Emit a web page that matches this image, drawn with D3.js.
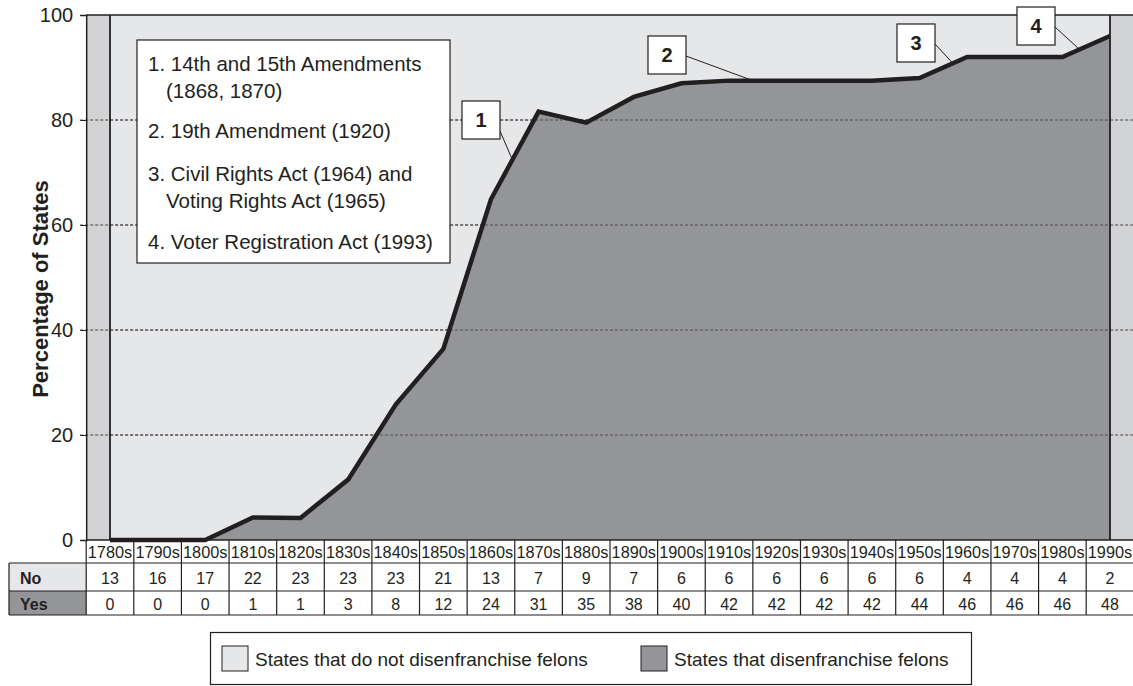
<!DOCTYPE html>
<html>
<head>
<meta charset="utf-8">
<title>felon disenfranchisement</title>
<script src="https://d3js.org/d3.v7.min.js"></script>
<style>
  body { margin: 0; background: #fff; }
  svg { display: block; font-family: "Liberation Sans", Arial, sans-serif; }
</style>
</head>
<body>
<div id="wrapper"></div>
<script>
// decades shown along the bottom
const decades = ["1780s","1790s","1800s","1810s","1820s","1830s","1840s","1850s","1860s","1870s","1880s",
  "1890s","1900s","1910s","1920s","1930s","1940s","1950s","1960s","1970s","1980s","1990s"];
// table rows: number of states
const noStates  = [13,16,17,22,23,23,23,21,13,7,9,7,6,6,6,6,6,6,4,4,4,2];
const yesStates = [0,0,0,1,1,3,8,12,24,31,35,38,40,42,42,42,42,44,46,46,46,48];
// percentage of states that disenfranchise
const pctYes = [0,0,0,4.3,4.2,11.5,25.8,36.4,64.9,81.6,79.5,84.4,87,87.5,87.5,87.5,87.5,88,92,92,92,96];
const yTicks = [0,20,40,60,80,100];
const notes = [
  ["1. 14th and 15th Amendments", "(1868, 1870)"],
  ["2. 19th Amendment (1920)"],
  ["3. Civil Rights Act (1964) and", "Voting Rights Act (1965)"],
  ["4. Voter Registration Act (1993)"]
];
// callout label and the segment of the line it points at
const callouts = [
  {label: "1", from: "1860s", to: "1870s", t: 0.45},
  {label: "2", from: "1910s", to: "1920s", t: 0.5},
  {label: "3", from: "1950s", to: "1960s", t: 0.7},
  {label: "4", from: "1980s", to: "1990s", t: 0.36}
];
const legendItems = ["States that do not disenfranchise felons", "States that disenfranchise felons"];

const dimensions = { width: 1133, height: 686 };
const c = { bg: "#e6e7e8", strip: "#d1d3d4", area: "#939598", ink: "#231f20" };
const font = "Liberation Sans, Arial, sans-serif";

const svg = d3.select("#wrapper").append("svg")
  .attr("width", dimensions.width).attr("height", dimensions.height);

const xScale = d3.scalePoint().domain(decades).range([110, 1110]);
const step = xScale.step();
const yScale = d3.scaleLinear().domain([0, 100]).range([540, 15]);
const left = xScale(decades[0]) - step / 2;
const right = xScale(decades[decades.length - 1]) + step / 2;
const first = xScale(decades[0]), last = xScale(decades[decades.length - 1]);

// plot backgrounds
svg.append("rect").attr("x", left).attr("y", yScale(100)).attr("width", right - left)
  .attr("height", yScale(0) - yScale(100)).attr("fill", c.strip);
svg.append("rect").attr("x", first).attr("y", yScale(100)).attr("width", last - first)
  .attr("height", yScale(0) - yScale(100)).attr("fill", c.bg);

// grid lines
const grid = yTicks.filter(d => d > 0 && d < 100);
svg.append("g").selectAll("line").data(grid).join("line")
  .attr("x1", left - 6).attr("x2", right).attr("y1", d => yScale(d)).attr("y2", d => yScale(d))
  .attr("stroke", c.ink).attr("stroke-width", 0.8).attr("stroke-dasharray", "3,2");

const data = decades.map((d, i) => ({ decade: d, pct: pctYes[i] }));

const area = d3.area().x(d => xScale(d.decade)).y0(yScale(0)).y1(d => yScale(d.pct));
svg.append("path").attr("d", area(data)).attr("fill", c.area);

// grid lines again over the area
svg.append("g").selectAll("line").data(grid).join("line")
  .attr("x1", first).attr("x2", last)
  .attr("y1", d => yScale(d)).attr("y2", d => yScale(d))
  .attr("stroke", c.ink).attr("stroke-width", 0.8).attr("stroke-dasharray", "3,2")
  .attr("opacity", 0.75);

// inner vertical borders
[first, last].forEach(x => {
  svg.append("line").attr("x1", x).attr("x2", x)
    .attr("y1", yScale(100)).attr("y2", yScale(0)).attr("stroke", c.ink).attr("stroke-width", 1.8);
});

const line = d3.line().x(d => xScale(d.decade)).y(d => yScale(d.pct));
svg.append("path").attr("d", line(data)).attr("fill", "none")
  .attr("stroke", c.ink).attr("stroke-width", 4.5).attr("stroke-linejoin", "miter");

// top border
svg.append("line").attr("x1", left).attr("x2", right).attr("y1", yScale(100)).attr("y2", yScale(100))
  .attr("stroke", c.ink).attr("stroke-width", 1.5);

// y axis
const yAxis = svg.append("g").attr("transform", `translate(${left},0)`)
  .call(d3.axisLeft(yScale).tickValues(yTicks).tickSize(6).tickPadding(7));
yAxis.select(".domain").attr("stroke", c.ink).attr("stroke-width", 1.5);
yAxis.selectAll(".tick line").attr("stroke", c.ink);
yAxis.selectAll(".tick text").attr("font-size", 20).attr("fill", c.ink).attr("font-family", font);

svg.append("text").attr("transform", `translate(48,289) rotate(-90)`)
  .attr("text-anchor", "middle").attr("font-size", 22).attr("font-weight", "bold")
  .attr("fill", c.ink).text("Percentage of States");

// notes box
const notesG = svg.append("g");
notesG.append("rect").attr("x", 137).attr("y", 40).attr("width", 313).attr("height", 223)
  .attr("fill", "#fff").attr("stroke", c.ink).attr("stroke-width", 1.2);
const noteY = [[71, 98], [138], [181, 208], [249]];
notes.forEach((lines, i) => {
  lines.forEach((t, j) => {
    notesG.append("text").attr("x", j === 0 ? 148 : 166).attr("y", noteY[i][j])
      .attr("font-size", 20.5).attr("fill", c.ink).text(t);
  });
});

// callouts
const calloutBoxes = [
  {x: 462, y: 101}, {x: 648, y: 36}, {x: 897, y: 24}, {x: 1017, y: 7}
];
callouts.forEach((co, i) => {
  const b = calloutBoxes[i];
  const x0 = xScale(co.from), x1 = xScale(co.to);
  const y0 = yScale(pctYes[decades.indexOf(co.from)]), y1 = yScale(pctYes[decades.indexOf(co.to)]);
  const px = x0 + (x1 - x0) * co.t, py = y0 + (y1 - y0) * co.t;
  svg.append("line").attr("x1", b.x + 38).attr("y1", b.y + 20 + (i === 0 ? 10 : 0))
    .attr("x2", px).attr("y2", py).attr("stroke", c.ink).attr("stroke-width", 1);
  svg.append("rect").attr("x", b.x).attr("y", b.y).attr("width", 38).attr("height", 38)
    .attr("fill", "#fff").attr("stroke", c.ink).attr("stroke-width", 1.2);
  svg.append("text").attr("x", b.x + 19).attr("y", b.y + 26).attr("text-anchor", "middle")
    .attr("font-size", 20).attr("font-weight", "bold").attr("fill", c.ink).text(co.label);
});

// data table
const rowTop = [540, 563, 591], rowBot = 615;
const table = svg.append("g");
table.append("rect").attr("x", 9).attr("y", rowTop[1]).attr("width", left - 9).attr("height", rowTop[2] - rowTop[1])
  .attr("fill", c.bg);
table.append("rect").attr("x", 9).attr("y", rowTop[2]).attr("width", left - 9).attr("height", rowBot - rowTop[2])
  .attr("fill", c.area);
table.append("text").attr("x", 20).attr("y", rowTop[1] + 21).attr("font-size", 16).attr("font-weight", "bold")
  .attr("fill", c.ink).text("No");
table.append("text").attr("x", 20).attr("y", rowTop[2] + 19).attr("font-size", 16).attr("font-weight", "bold")
  .attr("fill", c.ink).text("Yes");

decades.forEach((d, i) => {
  const cx = xScale(d);
  table.append("text").attr("x", cx).attr("y", rowTop[0] + 18).attr("text-anchor", "middle")
    .attr("font-size", 16.3).attr("fill", c.ink).text(d);
  table.append("text").attr("x", cx).attr("y", rowTop[1] + 21).attr("text-anchor", "middle")
    .attr("font-size", 16).attr("fill", c.ink).text(noStates[i]);
  table.append("text").attr("x", cx).attr("y", rowTop[2] + 19).attr("text-anchor", "middle")
    .attr("font-size", 16).attr("fill", c.ink).text(yesStates[i]);
});
// table lines
const hl = [[left, rowTop[0]], [9, rowTop[1]], [9, rowTop[2]], [9, rowBot]];
hl.forEach(([x, y], i) => {
  table.append("line").attr("x1", x).attr("x2", right).attr("y1", y).attr("y2", y)
    .attr("stroke", c.ink).attr("stroke-width", i === 0 ? 1.5 : 1.2);
});
table.append("line").attr("x1", 9).attr("x2", 9).attr("y1", rowTop[1]).attr("y2", rowBot)
  .attr("stroke", c.ink).attr("stroke-width", 1.2);
decades.forEach(d => {
  const x = xScale(d) - step / 2;
  table.append("line").attr("x1", x).attr("x2", x).attr("y1", rowTop[0]).attr("y2", rowBot)
    .attr("stroke", c.ink).attr("stroke-width", 1.2);
});

// legend
const legend = svg.append("g");
legend.append("rect").attr("x", 210.5).attr("y", 632.5).attr("width", 761).attr("height", 52)
  .attr("fill", "#fff").attr("stroke", c.ink).attr("stroke-width", 1.2);
const legendX = [222, 641];
legendItems.forEach((t, i) => {
  legend.append("rect").attr("x", legendX[i]).attr("y", 646).attr("width", 26).attr("height", 25)
    .attr("fill", i === 0 ? c.bg : c.area).attr("stroke", c.ink).attr("stroke-width", 1);
  legend.append("text").attr("x", legendX[i] + 33).attr("y", 666).attr("font-size", 19)
    .attr("fill", c.ink).text(t);
});
</script>
</body>
</html>
